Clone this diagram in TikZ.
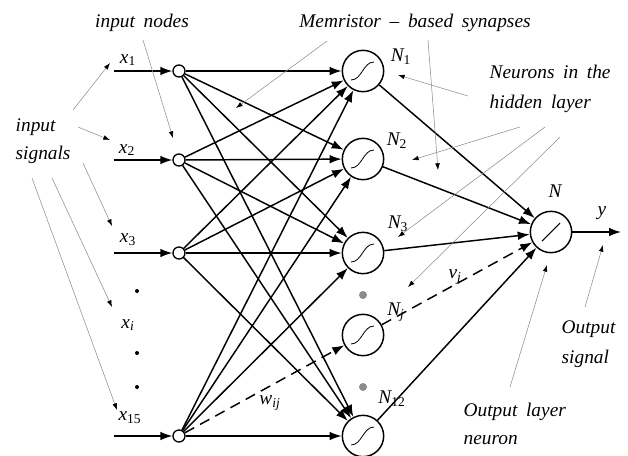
\documentclass[tikz,border=0pt]{standalone}
\usepackage{fontspec}
\setmainfont[WordSpace=1.8]{Liberation Serif}
\usetikzlibrary{arrows.meta}
\newcommand{\vlab}[2]{\textit{#1}\textsubscript{#2}}

\begin{document}
\begin{tikzpicture}[x=0.75pt,y=-0.75pt,
    font=\fontsize{14.5}{17}\selectfont\itshape,
    inp/.style={circle,draw,line width=1pt,fill=white,inner sep=0pt,minimum size=9pt},
    neur/.style={circle,draw,line width=1.1pt,inner sep=0pt,minimum size=31pt},
    syn/.style={line width=1.1pt,-{Latex[length=9pt,width=6.5pt]}},
    dsh/.style={dash pattern=on 8pt off 5pt},
    captxt/.style={align=left,anchor=west},
    note/.style={draw=black!45,line width=0.4pt,-{Latex[length=5pt,width=3.5pt,color=black]}}]
  \useasboundingbox (0,0) rectangle (628,455);
  % input nodes and signals
  \foreach \a/\y in {1/71,2/160,3/253,15/436}{
    \node[inp] (i\a) at (179,\y) {};
    \coordinate (s\a) at (114,\y);
    \draw[syn] (s\a) -- (i\a);
  }
  \node (lx1) at (128,60) {\vlab{x}{\upshape 1}};
  \node (lx2) at (127,150) {\vlab{x}{\upshape 2}};
  \node (lx3) at (128,240) {\vlab{x}{\upshape 3}};
  \node (lxi) at (128,325) {\vlab{x}{i}};
  \node (lx15) at (130,418) {\vlab{x}{\upshape 15}};
  \foreach \y in {291,353,387}
    \fill (137,\y) circle (2);
  % hidden layer
  \foreach \b/\y in {1/71,2/159,3/253,j/335,12/436}{
    \node[neur] (h\b) at (363,\y) {};
    \draw[line width=0.6pt] ([shift={(-12,9)}]h\b.center) .. controls +(11,0) and +(-11,0) .. ([shift={(11,-9)}]h\b.center);
  }
  \fill[black!45] (363,295) circle (4) (363,387) circle (4);
  \node (ln1) at (401,57) {\vlab{N}{\upshape 1}};
  \node (ln2) at (397,141) {\vlab{N}{\upshape 2}};
  \node (ln3) at (398,224) {\vlab{N}{\upshape 3}};
  \node (lnj) at (396,312) {\vlab{N}{j}};
  \node (ln12) at (392,399) {\vlab{N}{\upshape 12}};
  % output neuron
  \node[neur] (o) at (551,232) {};
  \draw[line width=0.8pt] ([shift={(-9,9)}]o.center) -- ([shift={(9,-9)}]o.center);
  \node (lno) at (555,191) {\textit{N}};
  \coordinate (yout) at (621,232);
  \draw[syn] (o) -- (yout);
  \node (ly) at (602,213) {\textit{y}};
  % synapses
  \foreach \a in {1,2,3,15}{
    \foreach \b in {1,2,3,12}{
      \draw[syn] (i\a) -- (h\b);
    }
  }
  \draw[syn,dsh] (i15) -- (hj);
  \foreach \b in {1,2,3,12}
    \draw[syn] (h\b) -- (o);
  \draw[syn,dsh] (hj) -- (o);
  \node (lw) at (270,403) {\vlab{w}{ij}};
  \node (lv) at (455,277) {\vlab{v}{j}};
  % captions
  \node (tin) at (142,23) {input nodes};
  \node (tmem) at (415,23) {Memristor -- based synapses};
  \node[captxt] (tsig) at (11,141) {\textit{input}\\[4pt]\textit{signals}};
  \node[captxt] (thid) at (485,89) {\textit{Neurons in the}\\[6pt]\textit{hidden layer}};
  \node[captxt] (tout) at (557,344) {\textit{Output}\\[5pt]\textit{signal}};
  \node[captxt] (tol) at (459,424) {\textit{Output layer}\\[4pt]\textit{neuron}};
  % pointers
  \foreach \ax/\ay/\bx/\by [count=\k] in {73/110/110/63,78/127/110/140,
      83/163/112/226,52/178/112/307,32/178/117/410,
      143/40/173/138,327/41/236/108,428/40/438/170,
      468/96/398/75,520/127/412/160,545/127/398/237,
      560/137/408/287,510/387/547/265,585/307/603/245}{
    \coordinate (na\k) at (\ax,\ay);
    \coordinate (nb\k) at (\bx,\by);
    \draw[note] (na\k) -- (nb\k);
  }
\end{tikzpicture}
\end{document}
